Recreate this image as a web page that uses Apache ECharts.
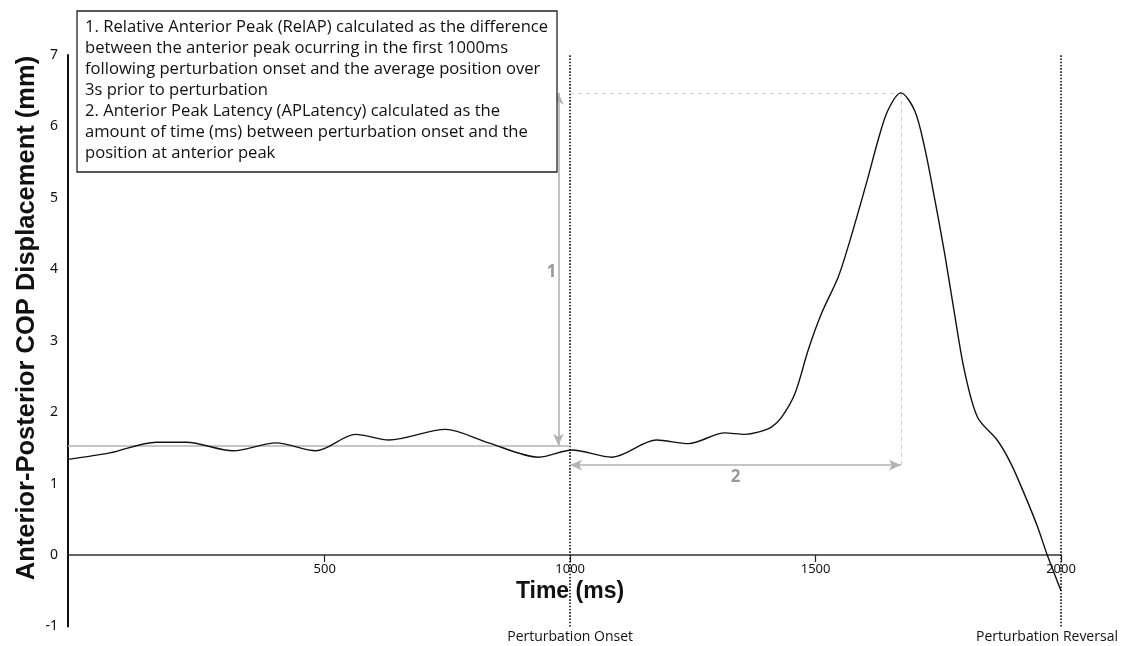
<!DOCTYPE html>
<html>
<head>
<meta charset="utf-8">
<script src="https://cdn.jsdelivr.net/npm/echarts@6/dist/echarts.min.js"></script>
<style>html,body{margin:0;padding:0;background:#fff;}#c{width:1136px;height:646px;}</style>
</head>
<body>
<div id="c"></div>
<script>
// Data
var timeMs = [-23, 62, 157, 218, 313, 401, 482, 563, 631, 746, 834, 936, 1004, 1085, 1176, 1241, 1315, 1356, 1383, 1410, 1431, 1458, 1485, 1512, 1546, 1566, 1586, 1607, 1627, 1647, 1674, 1702, 1722, 1742, 1763, 1783, 1803, 1830, 1871, 1898, 1925, 1952, 1972, 2000];
var displacement = [1.34, 1.43, 1.58, 1.58, 1.46, 1.57, 1.46, 1.69, 1.61, 1.76, 1.57, 1.37, 1.47, 1.37, 1.61, 1.56, 1.71, 1.69, 1.72, 1.79, 1.93, 2.26, 2.87, 3.38, 3.89, 4.31, 4.78, 5.29, 5.80, 6.22, 6.47, 6.22, 5.71, 5.01, 4.22, 3.38, 2.59, 1.93, 1.60, 1.28, 0.86, 0.40, 0.00, -0.50];
var xTickLabels = [500, 1000, 1500, 2000];
var yMin = -1, yMax = 7;
var xMin = -23, xMax = 2000;
var baselineAvg = 1.53;
var onsetMs = 1000;
var reversalMs = 2000;
var peakMs = 1674;
var peakVal = 6.47;
var latencyArrowY = 1.26;
var relApArrowX = 976;
var label1Pos = [962, 3.96];
var label2Pos = [1337, 1.09];
var noteLines = [
  '1. Relative Anterior Peak (RelAP) calculated as the difference',
  'between the anterior peak ocurring in the first 1000ms',
  'following perturbation onset and the average position over',
  '3s prior to perturbation',
  '2. Anterior Peak Latency (APLatency) calculated as the',
  'amount of time (ms) between perturbation onset and the',
  'position at anterior peak'
];
var yAxisTitle = 'Anterior-Posterior COP Displacement (mm)';
var xAxisTitle = 'Time (ms)';

var seriesData = timeMs.map(function (t, i) { return [t, displacement[i]]; });
var chart = echarts.init(document.getElementById('c'), null, {renderer: 'canvas'});
var gray = '#b3b3b3';
var option = {
  animation: false,
  backgroundColor: '#fff',
  grid: {left: 68, right: 75, top: 55, bottom: 19.5},
  xAxis: {
    type: 'value', min: xMin, max: xMax,
    axisLine: {show: true, onZero: true, lineStyle: {color: '#333', width: 1.5}},
    axisTick: {show: true, length: 7, customValues: xTickLabels, lineStyle: {color: '#222', width: 1.2}},
    axisLabel: {show: false},
    splitLine: {show: false}
  },
  yAxis: {
    type: 'value', min: yMin, max: yMax, interval: 1,
    axisLine: {show: true, onZero: false, lineStyle: {color: '#111', width: 2}},
    axisTick: {show: false},
    axisLabel: {margin: 10, fontSize: 14, color: '#111', fontFamily: 'Noto Sans'},
    splitLine: {show: false}
  },
  graphic: [
    {type: 'rect', shape: {x: 77, y: 11, width: 480, height: 161}, style: {fill: '#fff', stroke: '#222', lineWidth: 1.3}, z: 10},
    {type: 'text', x: 85, y: 17, z: 11, style: {text: noteLines.join('\n'), font: '16.6px "Open Sans"', lineHeight: 21, fill: '#111'}},
    {type: 'text', x: 27, y: 318, rotation: Math.PI / 2, z: 11,
      style: {text: yAxisTitle, font: 'bold 25.5px "Liberation Sans"', fill: '#111', align: 'center', verticalAlign: 'middle'}},
    {type: 'text', x: 570, y: 592, z: 11,
      style: {text: xAxisTitle, font: 'bold 23px "Liberation Sans"', fill: '#111', align: 'center', verticalAlign: 'middle'}}
  ],
  series: [
    {
      type: 'line', data: seriesData, smooth: 0.3, showSymbol: false, symbol: 'none',
      lineStyle: {color: '#111', width: 1.4}, z: 5,
      markLine: {
        silent: true, symbol: 'none',
        lineStyle: {color: '#111', type: 'dotted', width: 1.6},
        label: {show: true, position: 'start', distance: 4, fontSize: 14, color: '#111', fontFamily: 'Open Sans', formatter: '{b}'},
        data: [
          {xAxis: onsetMs, name: 'Perturbation Onset'},
          {xAxis: reversalMs, name: 'Perturbation Reversal', label: {offset: [-14, 0]}}
        ]
      }
    },
    {
      type: 'line', data: [], z: 3,
      markLine: {
        silent: true, symbol: 'none',
        label: {show: false},
        data: [
          [{coord: [xMin, baselineAvg], lineStyle: {color: gray, width: 1.5, type: 'solid'}}, {coord: [onsetMs, baselineAvg]}],
          [{coord: [onsetMs, peakVal], lineStyle: {color: '#cdcdcd', width: 1, type: [4, 4]}}, {coord: [peakMs, peakVal]}],
          [{coord: [peakMs, peakVal], lineStyle: {color: '#cdcdcd', width: 1, type: [4, 4]}}, {coord: [peakMs, latencyArrowY]}]
        ]
      },
      markPoint: {
        silent: true, symbol: 'circle', symbolSize: 0,
        label: {show: true, position: 'bottom', distance: 8, fontSize: 13, color: '#111', fontFamily: 'Noto Sans', formatter: '{c}'},
        data: xTickLabels.map(function (v) { return {coord: [v, 0], value: String(v)}; })
      }
    },
    {
      type: 'line', data: [], z: 4,
      markLine: {
        silent: true, symbol: ['arrow', 'arrow'], symbolSize: [8, 12],
        lineStyle: {color: gray, width: 1.6, type: 'solid'},
        label: {show: false},
        data: [
          [{coord: [relApArrowX, baselineAvg]}, {coord: [relApArrowX, peakVal]}],
          [{coord: [onsetMs, latencyArrowY]}, {coord: [peakMs, latencyArrowY]}]
        ]
      },
      markPoint: {
        silent: true, symbol: 'circle', symbolSize: 0,
        label: {show: true, position: 'inside', fontSize: 17, fontWeight: 'bold', color: '#9a9a9a', fontFamily: 'Open Sans', formatter: '{b}'},
        data: [
          {coord: label1Pos, name: '1'},
          {coord: label2Pos, name: '2'}
        ]
      }
    }
  ]
};
chart.setOption(option);
</script>
</body>
</html>
